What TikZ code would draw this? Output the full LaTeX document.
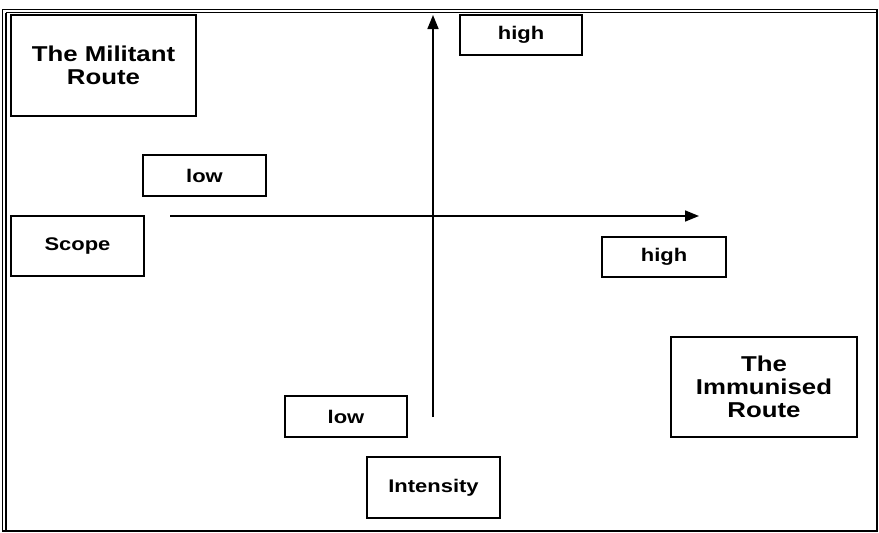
\documentclass[tikz,border=0pt]{standalone}
\usepackage{fontspec}
\setmainfont[FakeStretch=1.2]{Liberation Sans}
\usepackage{tikz}
\usetikzlibrary{arrows.meta}
\tikzset{
  font={\fontsize{18.3pt}{23pt}\selectfont\bfseries}}

\begin{document}
\begin{tikzpicture}[x=1pt,y=-1pt]
\tikzstyle{every node}+=[inner sep=0pt]
\tikzstyle{labelbox}=[draw=black,line width=1.1pt,align=center]
\tikzstyle{routebox}=[labelbox,font={\fontsize{21.5pt}{23pt}\selectfont\bfseries}]
\tikzstyle{axis}=[draw=black,line width=1.6pt,-{Triangle[length=14pt,width=11pt]}]
\useasboundingbox (0,0) rectangle (879,533);
% frame
\draw [black,line width=1pt] (2,9) -- (877,9);
\draw [black,line width=1.4pt] (6,12.5) -- (877,12.5);
\draw [black,line width=1pt] (2,9) -- (2,532);
\draw [black,line width=1.4pt] (6,12.5) -- (6,532);
\draw [black,line width=1.4pt] (877,9) -- (877,532);
\draw [black,line width=1.4pt] (2,531) -- (877,531);
% boxes
\node [routebox,minimum width=185pt,minimum height=101pt] (militant) at (103.5,65.5) {The Militant\\Route};
\node [labelbox,minimum width=123pt,minimum height=41pt] (scopelow) at (204.5,175.5) {low};
\node [labelbox,minimum width=133pt,minimum height=60pt] (scope) at (77.5,246) {Scope};
\node [labelbox,minimum width=122pt,minimum height=40pt] (intenshigh) at (521,35) {high};
\node [labelbox,minimum width=124pt,minimum height=40pt] (scopehigh) at (664,257) {high};
\node [routebox,minimum width=186pt,minimum height=100pt] (immunised) at (764,387) {The\\Immunised\\Route};
\node [labelbox,minimum width=122pt,minimum height=41pt] (intenslow) at (346,416.5) {low};
\node [labelbox,minimum width=133pt,minimum height=61pt] (intensity) at (433.5,487.5) {Intensity};
% axes
\coordinate (hstart) at (170,216);
\coordinate (hend) at (699,216);
\coordinate (vstart) at (433,417);
\coordinate (vend) at (433,15);
\draw [axis] (hstart) -- (hend);
\draw [axis] (vstart) -- (vend);
\end{tikzpicture}
\end{document}
